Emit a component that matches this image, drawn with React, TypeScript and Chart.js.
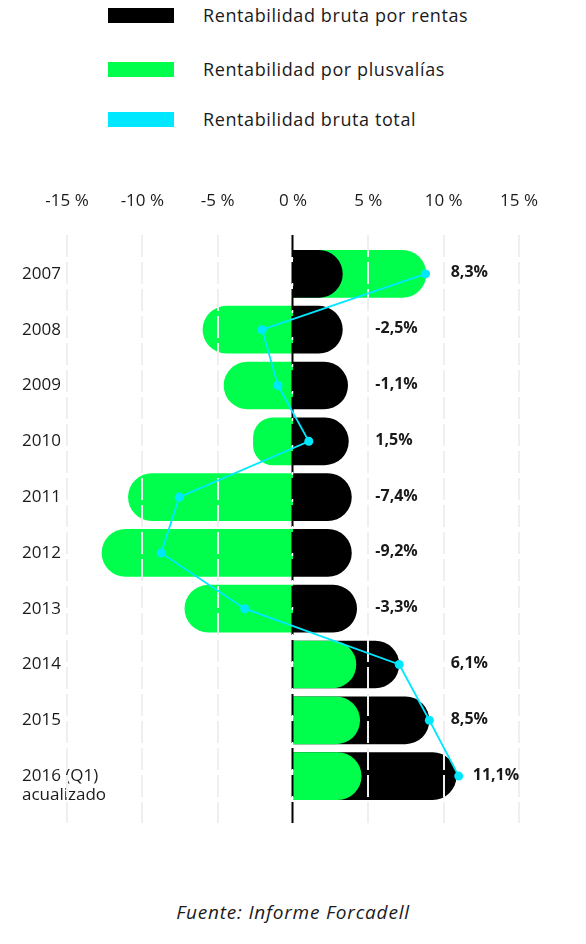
import React, { useEffect, useRef } from 'react';
import { Chart, registerables } from 'chart.js';

Chart.register(...registerables);

// ---- data ----
const categories: (string | string[])[] = [
  '2007', '2008', '2009', '2010', '2011', '2012', '2013', '2014', '2015',
  ['', '2016 (Q1)', 'acualizado'],
];
const rentas = [3.3, 3.3, 3.65, 3.7, 3.9, 3.9, 4.25, 7.05, 9.05, 10.85];
const plusvalias = [8.85, -6.0, -4.6, -2.65, -10.95, -12.7, -7.2, 4.2, 4.45, 4.55];
const totalPoints = [8.8, -2.05, -1.0, 1.05, -7.55, -8.75, -3.2, 7.05, 9.05, 11.0];
const totalLabels = [8.3, -2.5, -1.1, 1.5, -7.4, -9.2, -3.3, 6.1, 8.5, 11.1];
const xTicks = [-15, -10, -5, 0, 5, 10, 15];

const seriesNames = [
  'Rentabilidad bruta por rentas',
  'Rentabilidad por plusvalías',
  'Rentabilidad bruta total',
];
const sourceText = 'Fuente: Informe Forcadell';

const BLACK = '#000000';
const GREEN = '#00ff4c';
const CYAN = '#00e8ff';
const TEXT = '#1a1a1a';
const FONT = "'Open Sans', sans-serif";

const greenFrontMask = plusvalias.map((p, i) => p > 0 && p < rentas[i]);
const greenBack = plusvalias.map((p, i) => (greenFrontMask[i] ? null : p));
const greenFront = plusvalias.map((p, i) => (greenFrontMask[i] ? p : null));

const LINE_INDEX = 3;

const overlayPlugin = {
  id: 'overlayGrid',
  beforeDatasetDraw(chart: any, args: any) {
    if (args.index !== LINE_INDEX) return;
    const { ctx, chartArea, scales } = chart;
    const x = scales.x;
    const top = chartArea.top - 11;
    const bottom = chartArea.bottom + 19;
    ctx.save();
    ctx.lineWidth = 2;
    ctx.strokeStyle = '#efefef';
    ctx.setLineDash([22, 5]);
    xTicks.forEach((v) => {
      if (v === 0) return;
      const px = Math.round(x.getPixelForValue(v));
      ctx.beginPath();
      ctx.moveTo(px, top);
      ctx.lineTo(px, bottom);
      ctx.stroke();
    });
    const z = Math.round(x.getPixelForValue(0)) - 0.5;
    // zero line: black dashes with light gaps
    ctx.strokeStyle = BLACK;
    ctx.beginPath();
    ctx.moveTo(z, top);
    ctx.lineTo(z, bottom);
    ctx.stroke();
    ctx.strokeStyle = '#ffffff';
    ctx.lineWidth = 1.5;
    ctx.setLineDash([3, 24]);
    ctx.lineDashOffset = 2;
    ctx.beginPath();
    ctx.moveTo(z, top + 23);
    ctx.lineTo(z, bottom);
    ctx.stroke();
    ctx.restore();
  },
  afterDatasetsDraw(chart: any) {
    const { ctx, scales } = chart;
    const x = scales.x;
    const y = scales.y;
    const slots = [5, 10].map((v) => x.getPixelForValue(v) + 7);
    ctx.save();
    ctx.font = `bold 16px ${FONT}`;
    ctx.fillStyle = TEXT;
    ctx.textAlign = 'left';
    ctx.textBaseline = 'middle';
    totalLabels.forEach((val, i) => {
      const end = Math.max(
        x.getPixelForValue(rentas[i]),
        x.getPixelForValue(Math.max(plusvalias[i], 0)),
        x.getPixelForValue(totalPoints[i])
      );
      let lx = slots.find((s) => s >= end + 10);
      if (lx === undefined) lx = end + 14;
      const txt = val.toFixed(1).replace('.', ',') + '%';
      ctx.fillText(txt, lx, y.getPixelForValue(i) - 1);
    });
    ctx.restore();
  },
};

export default function App() {
  const ref = useRef<HTMLCanvasElement>(null);

  useEffect(() => {
    if (!ref.current) return;
    const barCommon = {
      grouped: false,
      barPercentage: 0.855,
      categoryPercentage: 1,
      borderRadius: 24,
      borderSkipped: 'start',
      borderWidth: 0,
    };
    const chart = new Chart(ref.current, {
      type: 'bar',
      data: {
        labels: categories as any,
        datasets: [
          { ...barCommon, label: seriesNames[1], data: greenBack, backgroundColor: GREEN, order: 4 } as any,
          { ...barCommon, label: seriesNames[0], data: rentas, backgroundColor: BLACK, order: 3 } as any,
          { ...barCommon, label: seriesNames[1], data: greenFront, backgroundColor: GREEN, order: 2 } as any,
          {
            type: 'line',
            label: seriesNames[2],
            data: totalPoints,
            indexAxis: 'y',
            borderColor: CYAN,
            backgroundColor: CYAN,
            borderWidth: 1.8,
            pointRadius: 4.5,
            pointBorderWidth: 0,
            pointBackgroundColor: CYAN,
            tension: 0,
            order: 1,
          } as any,
        ],
      },
      options: {
        indexAxis: 'y',
        responsive: false,
        animation: false,
        devicePixelRatio: 1,
        layout: { padding: { left: 22, right: 67, top: 40, bottom: 46 } },
        plugins: {
          legend: { display: false },
          tooltip: { enabled: false },
        },
        scales: {
          x: {
            type: 'linear',
            position: 'top',
            min: -15,
            max: 15,
            afterBuildTicks: (scale: any) => {
              scale.ticks = xTicks.map((v) => ({ value: v }));
            },
            afterFit: (scale: any) => {
              scale.height = 56;
            },
            grid: { display: false, drawTicks: false },
            border: { display: false },
            ticks: {
              padding: 35,
              color: TEXT,
              font: { family: FONT, size: 17 },
              callback: (v: any) => `${v} %`,
            },
          },
          y: {
            type: 'category',
            position: 'left',
            afterFit: (scale: any) => {
              scale.width = 45;
            },
            grid: { display: false, drawTicks: false },
            border: { display: false },
            ticks: {
              autoSkip: false,
              mirror: true,
              crossAlign: 'near',
              padding: -45,
              color: TEXT,
              font: { family: FONT, size: 17, lineHeight: 1.12 },
            },
          },
        },
      },
      plugins: [overlayPlugin],
    } as any);
    return () => chart.destroy();
  }, []);

  const swatches = [BLACK, GREEN, CYAN];
  const tops = [8, 62, 112];

  return (
    <div
      style={{
        position: 'absolute',
        left: 0,
        top: 0,
        width: 586,
        height: 944,
        background: '#fff',
        fontFamily: FONT,
        color: TEXT,
      }}
    >
      {seriesNames.map((name, i) => (
        <div
          key={name}
          style={{
            position: 'absolute',
            left: 108,
            top: tops[i],
            height: 15,
            display: 'flex',
            alignItems: 'center',
          }}
        >
          <div style={{ width: 66, height: 15, background: swatches[i], flex: 'none' }} />
          <span
            style={{
              marginLeft: 29,
              fontSize: 18,
              letterSpacing: '0.6px',
              lineHeight: '15px',
              whiteSpace: 'nowrap',
            }}
          >
            {name}
          </span>
        </div>
      ))}
      <canvas
        ref={ref}
        width={586}
        height={700}
        style={{ position: 'absolute', left: 0, top: 150, width: 586, height: 700 }}
      />
      <div
        style={{
          position: 'absolute',
          left: 0,
          top: 900,
          width: 586,
          textAlign: 'center',
          fontStyle: 'italic',
          fontSize: 19,
          letterSpacing: '0.8px',
          lineHeight: '24px',
        }}
      >
        {sourceText}
      </div>
    </div>
  );
}
